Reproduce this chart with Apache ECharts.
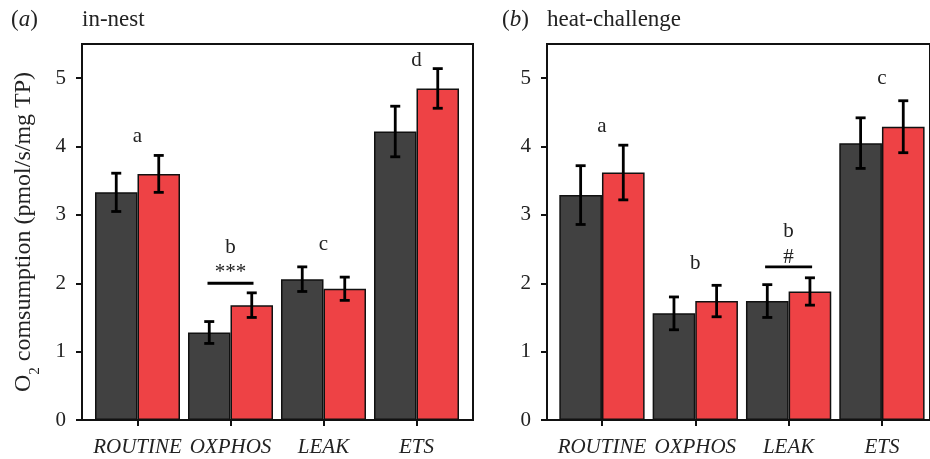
<!DOCTYPE html>
<html>
<head>
<meta charset="utf-8">
<script src="https://cdn.jsdelivr.net/npm/echarts@6/dist/echarts.min.js"></script>
<style>
html,body{margin:0;padding:0;background:#fff;}
#chart{width:930px;height:459px;}
</style>
</head>
<body>
<div id="chart"></div>
<script>
// ---- data ----
const categories = ['ROUTINE', 'OXPHOS', 'LEAK', 'ETS'];
const yTicks = [0, 1, 2, 3, 4, 5];

// (a) in-nest
const nestDark = [3.33, 1.28, 2.06, 4.22];
const nestDarkErr = [0.28, 0.16, 0.18, 0.37];
const nestRed = [3.60, 1.68, 1.92, 4.85];
const nestRedErr = [0.27, 0.18, 0.17, 0.29];
const nestLetters = ['a', 'b', 'c', 'd'];
const nestLetterY = [4.15, 2.52, 2.57, 5.26];
const nestSigText = ['***'];
const nestSigCat = [1];
const nestSigTextY = [2.16];
const nestSigLineY = [2.00];

// (b) heat-challenge
const heatDark = [3.29, 1.56, 1.74, 4.05];
const heatDarkErr = [0.43, 0.24, 0.24, 0.37];
const heatRed = [3.62, 1.74, 1.88, 4.29];
const heatRedErr = [0.40, 0.23, 0.20, 0.38];
const heatLetters = ['a', 'b', 'b', 'c'];
const heatLetterY = [4.30, 2.29, 2.76, 5.00];
const heatSigText = ['#'];
const heatSigCat = [2];
const heatSigTextY = [2.37];
const heatSigLineY = [2.24];

// ---- styles ----
const FONT = 'Liberation Serif';
const DARK = '#414141';
const RED = '#ee4245';
const INK = '#111';
const TXT = '#222';
const GAP = 0.086;

const chart = echarts.init(document.getElementById('chart'), null, {renderer: 'canvas'});

function errData(vals, errs, s) {
  return vals.map((v, i) => [i, v, errs[i], s]);
}
function errRender(params, api) {
  const cat = api.value(0), v = api.value(1), e = api.value(2), s = api.value(3);
  const band = api.size([1, 0])[0];
  const bw = band * (1 - GAP) / 2;
  const cx = api.coord([cat, 0])[0] + (s - 0.5) * bw;
  const yt = api.coord([cat, v + e])[1];
  const yb = api.coord([cat, v - e])[1];
  const cap = 5;
  const st = {stroke: '#000', lineWidth: 2.8};
  return {
    type: 'group',
    children: [
      {type: 'line', shape: {x1: cx, y1: yt, x2: cx, y2: yb}, style: st},
      {type: 'line', shape: {x1: cx - cap, y1: yt, x2: cx + cap, y2: yt}, style: st},
      {type: 'line', shape: {x1: cx - cap, y1: yb, x2: cx + cap, y2: yb}, style: st}
    ]
  };
}
function textSeries(idx, cats, ys, texts) {
  return {
    type: 'scatter', xAxisIndex: idx, yAxisIndex: idx, z: 5,
    symbolSize: 1, silent: true,
    itemStyle: {opacity: 0},
    data: ys.map((y, i) => ({name: texts[i], value: [cats[i], y]})),
    label: {show: true, position: 'inside', formatter: '{b}', fontFamily: FONT, fontSize: 21,
            color: TXT, textBorderWidth: 0, opacity: 1}
  };
}
function lineSeries(idx, cats, ys, w) {
  return {
    type: 'scatter', xAxisIndex: idx, yAxisIndex: idx, z: 5, silent: true,
    symbol: 'rect', symbolSize: [w, 2.8], itemStyle: {color: '#000', opacity: 1},
    data: ys.map((y, i) => [cats[i], y])
  };
}
function barSeries(idx, vals, color) {
  return {
    type: 'bar', xAxisIndex: idx, yAxisIndex: idx, data: vals,
    barGap: '0%', barCategoryGap: (GAP * 100) + '%',
    itemStyle: {color: color, borderColor: INK, borderWidth: 1.5},
    silent: true
  };
}
function frameAxes(idx) {
  return {
    x: {gridIndex: idx, type: 'value', show: false, min: 0, max: 1},
    y: {gridIndex: idx, type: 'value', show: false, min: 0, max: 1}
  };
}
function dataX(idx) {
  return {
    gridIndex: idx, type: 'category', data: categories,
    axisLine: {show: true, lineStyle: {color: INK, width: 2}},
    axisTick: {show: true, interval: 0, alignWithLabel: true, length: 6, lineStyle: {color: INK, width: 2}},
    axisLabel: {interval: 0, fontFamily: FONT, fontStyle: 'italic', fontSize: 21, color: TXT, margin: 17}
  };
}
function dataY(idx, off, withName) {
  const ax = {
    gridIndex: idx, type: 'value', min: 0, max: 5.5, interval: 1, offset: off,
    splitLine: {show: false},
    axisLine: {show: true, lineStyle: {color: INK, width: 2}},
    axisTick: {show: true, length: 6, customValues: yTicks, lineStyle: {color: INK, width: 2}},
    axisLabel: {fontFamily: FONT, fontSize: 21, color: TXT, margin: 16, customValues: yTicks}
  };
  if (withName) {
    ax.name = '{t|O}{s|2}{t| comsumption (pmol/s/mg TP)}';
    ax.nameLocation = 'middle';
    ax.nameRotate = 90;
    ax.nameGap = 46;
    ax.nameTextStyle = {
      fontFamily: FONT, fontSize: 24, color: TXT,
      rich: {
        t: {fontFamily: FONT, fontSize: 24, color: TXT},
        s: {fontFamily: FONT, fontSize: 15, color: TXT, verticalAlign: 'bottom', padding: [0, 0, -7, 0]}
      }
    };
  }
  return ax;
}

const f0 = frameAxes(0), f2 = frameAxes(2);
const titleRich = {
  n: {fontFamily: FONT, fontSize: 23, color: TXT, fontWeight: 'normal'},
  i: {fontFamily: FONT, fontSize: 23, color: TXT, fontStyle: 'italic', fontWeight: 'normal'}
};
const titleStyle = {fontFamily: FONT, fontSize: 23, fontWeight: 'normal', color: TXT};

const option = {
  backgroundColor: '#fff',
  animation: false,
  title: [
    {text: '{n|(}{i|a}{n|)}', left: 11, top: 8, padding: 0, textStyle: {fontWeight: 'normal', rich: titleRich}},
    {text: 'in-nest', left: 82, top: 8, padding: 0, textStyle: titleStyle},
    {text: '{n|(}{i|b}{n|)}', left: 502, top: 8, padding: 0, textStyle: {fontWeight: 'normal', rich: titleRich}},
    {text: 'heat-challenge', left: 547, top: 8, padding: 0, textStyle: titleStyle}
  ],
  grid: [
    {left: 82, top: 44, width: 391, height: 376, show: true, borderColor: INK, borderWidth: 2, backgroundColor: 'transparent'},
    {left: 91, top: 44, width: 372, height: 376},
    {left: 547, top: 44, width: 390, height: 376, show: true, borderColor: INK, borderWidth: 2, backgroundColor: 'transparent'},
    {left: 555.3, top: 44, width: 373.3, height: 376}
  ],
  xAxis: [f0.x, dataX(1), f2.x, dataX(3)],
  yAxis: [f0.y, dataY(1, 9, true), f2.y, dataY(3, 8.3, false)],
  series: [
    barSeries(1, nestDark, DARK),
    barSeries(1, nestRed, RED),
    {type: 'custom', xAxisIndex: 1, yAxisIndex: 1, z: 4, silent: true, renderItem: errRender, data: errData(nestDark, nestDarkErr, 0).concat(errData(nestRed, nestRedErr, 1))},
    textSeries(1, [0, 1, 2, 3], nestLetterY, nestLetters),
    textSeries(1, nestSigCat, nestSigTextY, nestSigText),
    lineSeries(1, nestSigCat, nestSigLineY, 46),

    barSeries(3, heatDark, DARK),
    barSeries(3, heatRed, RED),
    {type: 'custom', xAxisIndex: 3, yAxisIndex: 3, z: 4, silent: true, renderItem: errRender, data: errData(heatDark, heatDarkErr, 0).concat(errData(heatRed, heatRedErr, 1))},
    textSeries(3, [0, 1, 2, 3], heatLetterY, heatLetters),
    textSeries(3, heatSigCat, heatSigTextY, heatSigText),
    lineSeries(3, heatSigCat, heatSigLineY, 47)
  ]
};
chart.setOption(option);
</script>
</body>
</html>
